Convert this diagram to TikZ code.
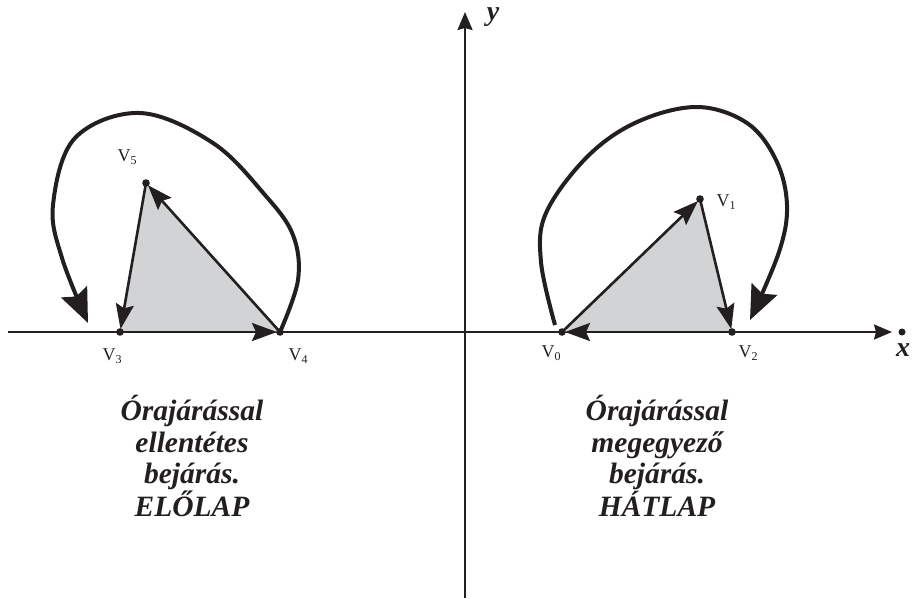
\documentclass[tikz,border=0pt]{standalone}
\usepackage{fontspec}
\setmainfont{Liberation Serif}
\usetikzlibrary{arrows.meta}
\definecolor{ink}{HTML}{231F20}
\definecolor{facegray}{HTML}{D1D3D4}
\tikzset{
  axisline/.style={draw=ink, line width=2pt, -{Stealth[length=18pt,width=15pt,inset=2pt]}},
  edgearrow/.style={draw=ink, line width=2.6pt, shorten >=3pt, -{Stealth[length=25pt,width=18pt,inset=4pt]}},
  bigcurve/.style={draw=ink, line width=4pt, -{Stealth[length=34pt,width=28pt,inset=5pt]}},
  vlabel/.style={font=\fontsize{18}{20}\selectfont, inner sep=0pt, text=ink},
  axlabel/.style={font=\fontsize{28}{30}\selectfont\bfseries\itshape, inner sep=0pt, text=ink},
  desc/.style={font=\fontsize{29.5}{31.5}\selectfont\bfseries\itshape, align=center, inner sep=0pt, text=ink},
  face/.style={fill=facegray, draw=none},
  vdot/.style={fill=ink}
}
\newcommand{\vsub}[1]{V\raisebox{-0.35ex}{\fontsize{12}{12}\selectfont #1}}
\begin{document}
\begin{tikzpicture}[x=1pt,y=-1pt]
\useasboundingbox (0,0) rectangle (912,598);
% axes
\coordinate (xs) at (8,332);
\coordinate (xe) at (892,332);
\coordinate (ys) at (465,598);
\coordinate (ye) at (465,12);
\draw[axisline] (xs) -- (xe);
\draw[axisline] (ys) -- (ye);
\node[circle, fill=ink, inner sep=0pt, minimum size=7pt] (xdot) at (902,332) {};
\node[axlabel] (xl) at (903,350) {x};
\node[axlabel] (yl) at (493,17) {y};
% left triangle
\coordinate (v3) at (120,332);
\coordinate (v4) at (280,332);
\coordinate (v5) at (146,183);
\fill[face] (v3) -- (v4) -- (v5) -- cycle;
\draw[edgearrow] (v3) -- (v4);
\draw[edgearrow] (v4) -- (v5);
\draw[edgearrow] (v5) -- (v3);
\foreach \p in {v3,v4,v5} \fill[vdot] (\p) circle (3.8);
% right triangle
\coordinate (v0) at (562,332);
\coordinate (v1) at (700,199);
\coordinate (v2) at (732,332);
\fill[face] (v0) -- (v1) -- (v2) -- cycle;
\draw[edgearrow] (v0) -- (v1);
\draw[edgearrow] (v1) -- (v2);
\draw[edgearrow] (v2) -- (v0);
\foreach \p in {v0,v1,v2} \fill[vdot] (\p) circle (3.8);
% vertex labels
\node[vlabel] (l5) at (127,157) {\vsub{5}};
\node[vlabel] (l3) at (112,356) {\vsub{3}};
\node[vlabel] (l4) at (298,356) {\vsub{4}};
\node[vlabel] (l1) at (726,202) {\vsub{1}};
\node[vlabel] (l0) at (551,353) {\vsub{0}};
\node[vlabel] (l2) at (748,353) {\vsub{2}};
% big curved arrows
\draw[bigcurve] plot[smooth, tension=0.6] coordinates {(v4) (298,280) (293,235) (265,195) (213,143) (140,113) (75,138) (53,205) (62,258) (88,323)};
\draw[bigcurve] plot[smooth, tension=0.6] coordinates {(555,325) (541,262) (546,213) (587,157) (637,122) (697,107) (747,123) (776,160) (787,205) (779,252) (750,320)};
% descriptions
\node[desc] (tl) at (192,456) {Órajárással\\ellentétes\\bejárás.\\ELŐLAP};
\node[desc] (tr) at (657,456) {Órajárással\\megegyező\\bejárás.\\HÁTLAP};
\end{tikzpicture}
\end{document}
